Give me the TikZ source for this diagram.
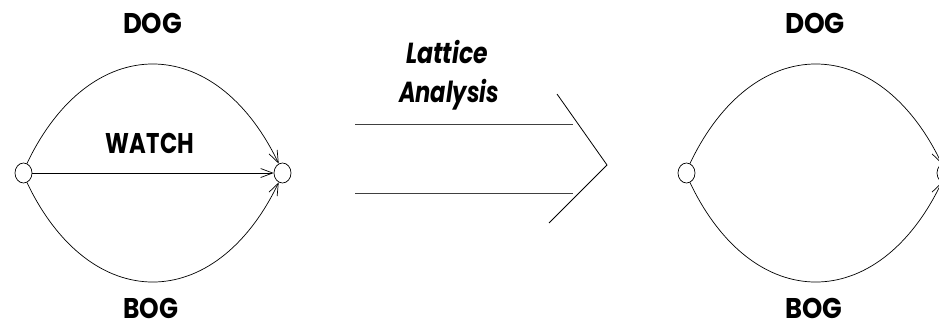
\documentclass[tikz,border=0pt]{standalone}
\usepackage{fontspec}
\setmainfont{Poppins}
\usetikzlibrary{arrows.meta,shapes.geometric}
\newcommand{\fitw}[2]{\resizebox{#1}{\height}{#2}}
\begin{document}
\begin{tikzpicture}[x=1pt,y=-1pt,
  vtx/.style={draw,ellipse,minimum width=17pt,minimum height=20pt,inner sep=0pt,line width=0.7pt},
  lbl/.style={font=\bfseries\fontsize{28.5}{30}\selectfont,anchor=base,inner sep=0pt},
  ilbl/.style={font=\bfseries\itshape\fontsize{29}{30}\selectfont,anchor=base,inner sep=0pt},
  edge/.style={line width=0.7pt,-{Straight Barb[length=12pt,width=9pt,line width=0.7pt]}},
  band/.style={line width=1pt,draw=black!75},
  chev/.style={line width=0.8pt}]
\clip (0,0) rectangle (939,325);
% left graph
\node[vtx] (a) at (23.5,173) {};
\node[vtx] (b) at (282.5,173) {};
\node[lbl] (dog1) at (152.5,33) {\fitw{59pt}{DOG}};
\node[lbl] (watch) at (150,153) {\fitw{88pt}{WATCH}};
\node[lbl] (bog1) at (150.5,318) {\fitw{55pt}{BOG}};
\draw[edge] (a.70) .. controls (90,31) and (215,31) .. (b.112);
\draw[edge] (a.east) -- (b.west);
\draw[edge] (a.-70) .. controls (90,315) and (215,315) .. (b.-112);
% middle arrow
\coordinate (l1) at (355,124);
\coordinate (r1) at (573,124);
\coordinate (l2) at (355,193);
\coordinate (r2) at (573,193);
\coordinate (c1) at (557,94);
\coordinate (tip) at (607,165);
\coordinate (c2) at (549,223);
\draw[band] (l1) -- (r1);
\draw[band] (l2) -- (r2);
\draw[chev] (c1) -- (tip) -- (c2);
\node[ilbl] (lat) at (447,63) {\fitw{82pt}{Lattice}};
\node[ilbl] (ana) at (449,102) {\fitw{100pt}{Analysis}};
% right graph
\node[vtx] (c) at (686.5,173) {};
\node[vtx] (d) at (945.5,173) {};
\node[lbl] (dog2) at (815,33) {\fitw{60pt}{DOG}};
\node[lbl] (bog2) at (813.5,318) {\fitw{57pt}{BOG}};
\draw[edge] (c.70) .. controls (753,31) and (878,31) .. (d.112);
\draw[edge] (c.-70) .. controls (753,315) and (878,315) .. (d.-112);
\end{tikzpicture}
\end{document}
